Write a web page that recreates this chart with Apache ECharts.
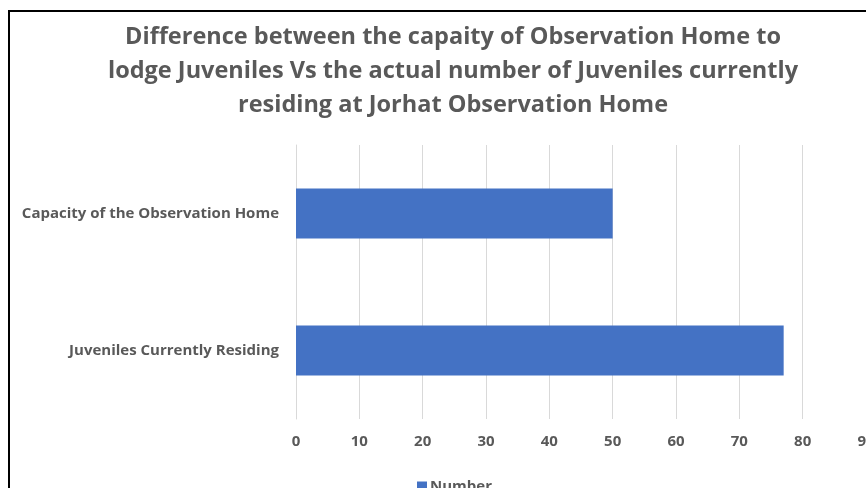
<!DOCTYPE html>
<html>
<head>
<meta charset="utf-8">
<script src="https://cdn.jsdelivr.net/npm/echarts@6/dist/echarts.min.js"></script>
<style>
  html, body { margin: 0; padding: 0; background: #fff; overflow: hidden; }
  #chart { width: 866px; height: 488px; }
  #frame { position: absolute; left: 8px; top: 10px; width: 856px; height: 476px;
           border-left: 2px solid #000; border-top: 2px solid #000; pointer-events: none; }
</style>
</head>
<body>
<div id="chart"></div>
<div id="frame"></div>
<script>
  // categories from bottom to top, as the bar chart draws them
  const categories = ['Juveniles Currently Residing', 'Capacity of the Observation Home'];
  const numbers = [77, 50];
  const titleText = 'Difference between the capaity of Observation Home to\nlodge Juveniles Vs the actual number of Juveniles currently\nresiding at Jorhat Observation Home';

  const myChart = echarts.init(document.getElementById('chart'));
  const grey = '#595959';
  const option = {
    animation: false,
    title: {
      text: titleText,
      left: 448,
      textAlign: 'center',
      top: 15,
      textStyle: {
        fontFamily: 'Open Sans',
        fontSize: 23.5,
        fontWeight: 'bold',
        color: grey,
        lineHeight: 34
      }
    },
    legend: {
      data: ['Number'],
      left: 412,
      top: 474,
      itemWidth: 10,
      itemHeight: 10,
      itemGap: 4,
      icon: 'rect',
      textStyle: { fontFamily: 'Open Sans', fontSize: 15, fontWeight: 'bold', color: grey, padding: [0, 0, 0, -2] }
    },
    // the last tick label is cut off at the right edge, as in the picture
    grid: { left: 296, right: 0, top: 145, bottom: 69, outerBoundsMode: 'none' },
    xAxis: {
      type: 'value',
      min: 0,
      max: 90,
      interval: 10,
      axisLine: { show: false },
      axisTick: { show: false },
      splitLine: { lineStyle: { color: '#d9d9d9', width: 1 } },
      axisLabel: { fontFamily: 'Open Sans', fontSize: 15, fontWeight: 'bold', color: grey, margin: 15 }
    },
    yAxis: {
      type: 'category',
      data: categories,
      axisLine: { lineStyle: { color: '#d9d9d9' } },
      axisTick: { show: false },
      axisLabel: { fontFamily: 'Open Sans', fontSize: 15, fontWeight: 'bold', color: grey, margin: 17 }
    },
    series: [
      {
        name: 'Number',
        type: 'bar',
        data: numbers,
        barWidth: 50,
        itemStyle: { color: '#4472c4' }
      }
    ]
  };
  myChart.setOption(option);
</script>
</body>
</html>
